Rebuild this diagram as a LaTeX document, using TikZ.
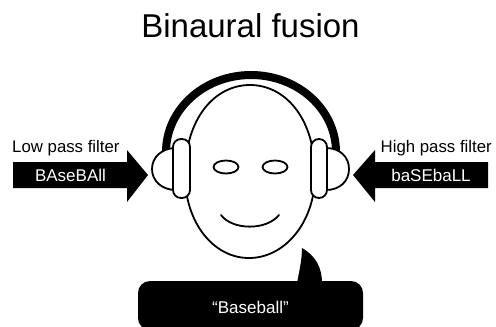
\documentclass[tikz,border=0pt]{standalone}
\usepackage{fontspec}
\setmainfont{Liberation Sans}
\begin{document}
\begin{tikzpicture}[x=1bp,y=-1bp,
  outline/.style={draw=black,line width=1.8bp,line join=round},
  label/.style={inner sep=0pt,anchor=base,font=\fontsize{16.8bp}{18bp}\selectfont},
  word/.style={inner sep=0pt,text=white,font=\fontsize{17bp}{19bp}\selectfont}]
\useasboundingbox (0,0) rectangle (496,326);

% title
\node[inner sep=0pt,anchor=base,font=\fontsize{33bp}{36bp}\selectfont] (title) at (250.5,37) {Binaural fusion};

% headband (half ellipse over the head)
\draw[line width=8bp] (166,152) arc[start angle=180,end angle=360,x radius=85,y radius=77];

% face
\draw[outline,fill=white] (185,175) .. controls (185,118) and (215,85) .. (250,85)
  .. controls (285,85) and (315,118) .. (315,175)
  .. controls (315,222) and (285,258) .. (249,258)
  .. controls (213,258) and (185,222) .. (185,175) -- cycle;

% eyes
\draw[outline] (226,167) ellipse[x radius=12.5,y radius=6.5];
\draw[outline] (275,167) ellipse[x radius=12.5,y radius=6.5];

% smile
\draw[outline,line cap=round] (221,215) .. controls (232,230) and (266,231) .. (279,215);

% ear cups
\draw[outline,fill=white] (176,148) .. controls (162,148) and (152,157) .. (152,169)
  .. controls (152,181) and (162,190) .. (176,190) -- cycle;
\draw[outline,fill=white,rounded corners=8] (173,139) rectangle (190,198);
\draw[outline,fill=white] (326,148) .. controls (340,148) and (349,157) .. (349,169)
  .. controls (349,181) and (340,190) .. (326,190) -- cycle;
\draw[outline,fill=white,rounded corners=8] (311,139) rectangle (327,198);

% input arrows
\fill (13,162) -- (127,162) -- (127,150) -- (148,175) -- (127,202) -- (127,188) -- (13,188) -- cycle;
\fill (488,162) -- (375,162) -- (375,150) -- (353,175) -- (375,202) -- (375,188) -- (488,188) -- cycle;
\node[label,anchor=base west] (lowlbl) at (12,152) {Low pass filter};
\node[label,anchor=base east] (highlbl) at (492,152) {High pass filter};
\node[word] (lowword) at (70.5,175) {BAseBAll};
\node[word] (highword) at (431,175) {baSEbaLL};

% speech bubble
\fill (297,283) .. controls (300,268) and (302,258) .. (302,248)
  .. controls (316,256) and (322,268) .. (322,283) -- cycle;
\fill[rounded corners=12] (138,281) rectangle (363,330);
\node[word] (said) at (250.5,307) {“Baseball”};
\end{tikzpicture}
\end{document}
